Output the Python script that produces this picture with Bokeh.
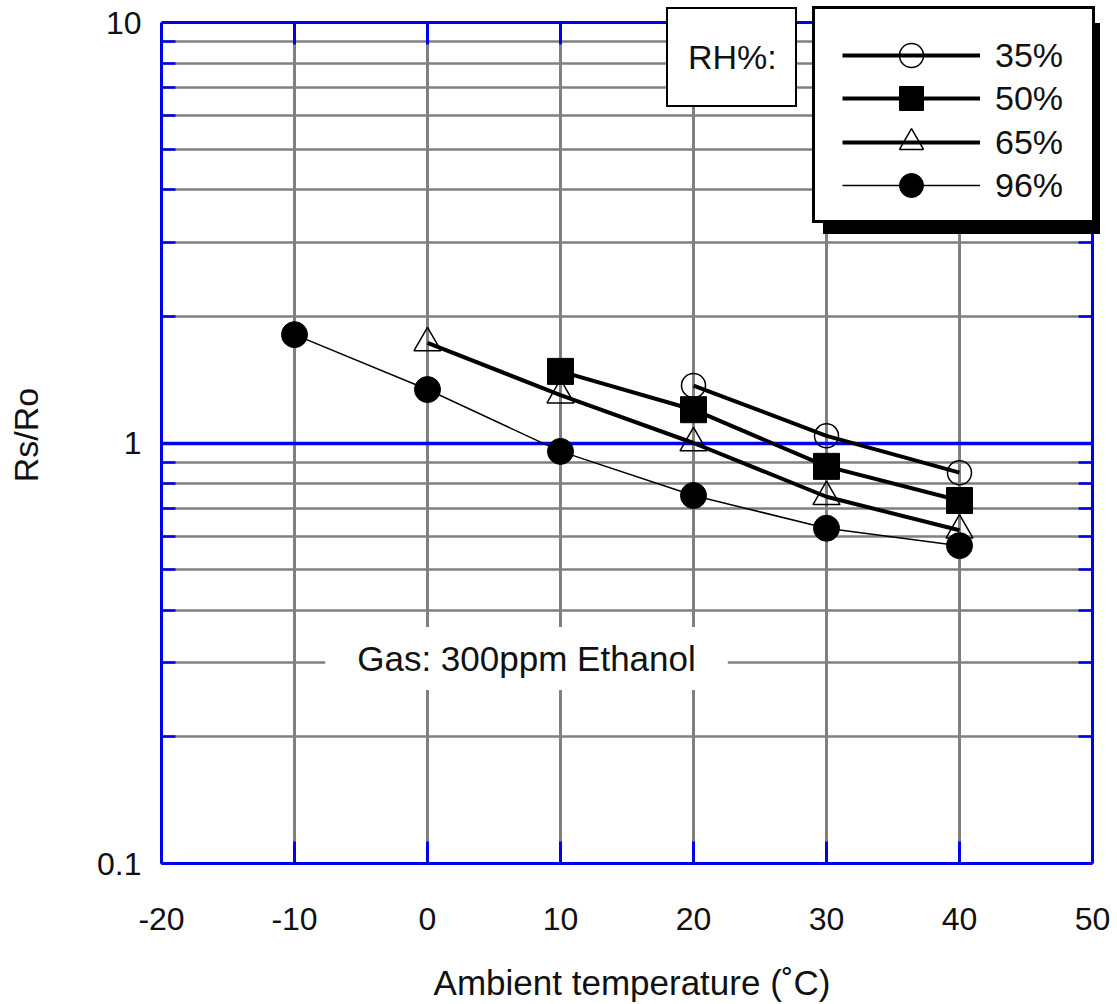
from bokeh.plotting import figure
from bokeh.models import (FixedTicker, Grid, LinearAxis, LogAxis, Legend, LegendItem,
                          Label, BoxAnnotation, CustomJSTickFormatter)
from bokeh.embed import file_html
from bokeh.resources import INLINE

# ---------------- data ----------------
temp_35 = [20, 30, 40]
rsro_35 = [1.37, 1.04, 0.85]
temp_50 = [10, 20, 30, 40]
rsro_50 = [1.48, 1.20, 0.88, 0.73]
temp_65 = [0, 10, 20, 30, 40]
rsro_65 = [1.73, 1.30, 1.00, 0.745, 0.62]
temp_96 = [-10, 0, 10, 20, 30, 40]
rsro_96 = [1.81, 1.34, 0.955, 0.75, 0.627, 0.57]
series_labels = ["35%", "50%", "65%", "96%"]

x_lo, x_hi = -20, 50
y_lo, y_hi = 0.1, 10
x_ticks = [-20, -10, 0, 10, 20, 30, 40, 50]
x_grid = [-10, 0, 10, 20, 30, 40]
y_ticks = [0.1, 1, 10]
y_minor = [0.2, 0.3, 0.4, 0.5, 0.6, 0.7, 0.8, 0.9, 2, 3, 4, 5, 6, 7, 8, 9]
y_blue = [1]

# ---------------- styling / geometry ----------------
BLUE = "#0000ee"
GRAY = "#808080"
INK = "#111111"
FONT = "Liberation Sans"
W, H = 1110, 1004
FL, FT, FR, FB = 161, 22, 1092, 863   # chart box edges (x=-20..50, y=0.1..10), canvas px
PT, PR = 6, 1102                      # plot-frame top/right, a bit larger so boxes fit
XPX = (FR - FL) / 70.0                # px per degree
DEC = (FB - FT) / 2.0                 # px per decade


def px2x(px):
    return x_lo + (px - FL) / XPX


def py2y(py):
    return 10 ** (1 - (py - FT) / DEC)


p = figure(width=W, height=H, x_range=(x_lo, px2x(PR)), y_range=(y_lo, py2y(PT)),
           y_axis_type="log", output_backend="svg", toolbar_location=None,
           min_border_left=FL, min_border_top=PT,
           min_border_right=W - PR, min_border_bottom=H - FB)
p.outline_line_color = None
p.background_fill_color = "white"
p.border_fill_color = "white"

# grids
p.xgrid.ticker = FixedTicker(ticks=x_grid)
p.xgrid.grid_line_color = GRAY
p.xgrid.grid_line_width = 3
p.xgrid.cross_bounds = (y_lo, y_hi)
p.ygrid.ticker = FixedTicker(ticks=y_minor)
p.ygrid.grid_line_color = GRAY
p.ygrid.grid_line_width = 2.5
p.ygrid.cross_bounds = (x_lo, x_hi)
blue_grid = Grid(dimension=1, ticker=FixedTicker(ticks=y_blue), cross_bounds=(x_lo, x_hi),
                 grid_line_color=BLUE, grid_line_width=3.5)
p.add_layout(blue_grid)

# axes
xa = p.xaxis[0]
xa.ticker = FixedTicker(ticks=x_ticks, minor_ticks=[])
xa.formatter = CustomJSTickFormatter(code="return tick.toFixed(0);")
xa.axis_label = "Ambient temperature (˚C)"
xa.bounds = (x_lo, x_hi)
ya = p.yaxis[0]
ya.ticker = FixedTicker(ticks=y_ticks, minor_ticks=y_minor)
ya.formatter = CustomJSTickFormatter(code="return tick >= 1 ? tick.toFixed(0) : tick.toFixed(1);")
ya.axis_label = "Rs/Ro"
ya.bounds = (y_lo, y_hi)

for ax in (xa, ya):
    ax.axis_line_color = BLUE
    ax.axis_line_width = 3
    ax.major_tick_line_color = BLUE
    ax.major_tick_out = 0
    ax.minor_tick_out = 0
    ax.major_label_text_font = FONT
    ax.major_label_text_font_size = "32px"
    ax.major_label_text_color = INK
    ax.axis_label_text_font = FONT
    ax.axis_label_text_font_style = "normal"
    ax.axis_label_text_color = INK

xa.axis_label_text_font_size = "35px"
ya.axis_label_text_font_size = "34px"
xa.major_tick_in = 22
xa.major_tick_line_width = 3
xa.major_label_standoff = 44
xa.axis_label_standoff = 30
ya.major_tick_in = 14
ya.major_tick_line_width = 2.5
ya.minor_tick_in = 14
ya.minor_tick_line_color = BLUE
ya.minor_tick_line_width = 2.5
ya.major_label_standoff = 20
ya.axis_label_standoff = 49

# blank out the thin strips of frame that lie beyond y=10 and x=50
p.add_layout(BoxAnnotation(bottom=py2y(FT - 1.6), fill_color="white", fill_alpha=1,
                           line_color=None))
p.add_layout(BoxAnnotation(left=px2x(FR + 1.6), fill_color="white", fill_alpha=1,
                           line_color=None))

blank = CustomJSTickFormatter(code="return '';")
top_axis = LinearAxis(ticker=FixedTicker(ticks=x_ticks, minor_ticks=[]), formatter=blank,
                      fixed_location=y_hi, bounds=(x_lo, x_hi),
                      axis_line_color=BLUE, axis_line_width=3,
                      major_tick_in=22, major_tick_out=0, major_tick_line_color=BLUE,
                      major_tick_line_width=3, minor_tick_line_color=None,
                      major_label_text_font_size="1px", major_label_standoff=0)
p.add_layout(top_axis, "above")
right_axis = LogAxis(ticker=FixedTicker(ticks=y_ticks, minor_ticks=y_minor), formatter=blank,
                     fixed_location=x_hi, bounds=(y_lo, y_hi),
                     axis_line_color=BLUE, axis_line_width=3,
                     major_tick_in=14, major_tick_out=0, major_tick_line_color=BLUE,
                     major_tick_line_width=2.5, minor_tick_in=14, minor_tick_out=0,
                     minor_tick_line_color=BLUE, minor_tick_line_width=2.5,
                     major_label_text_font_size="1px", major_label_standoff=0)
p.add_layout(right_axis, "right")

# ---------------- series ----------------
l35 = p.line(temp_35, rsro_35, line_color="black", line_width=4)
s35 = p.scatter(temp_35, rsro_35, marker="circle", size=24, fill_alpha=0,
                line_color="black", line_width=1.5)
l50 = p.line(temp_50, rsro_50, line_color="black", line_width=4)
s50 = p.scatter(temp_50, rsro_50, marker="square", size=26, fill_color="black",
                line_color="black")
l65 = p.line(temp_65, rsro_65, line_color="black", line_width=4)
s65 = p.scatter(temp_65, rsro_65, marker="triangle", size=27, fill_alpha=0,
                line_color="black", line_width=1.5)
l96 = p.line(temp_96, rsro_96, line_color="black", line_width=1.5)
s96 = p.scatter(temp_96, rsro_96, marker="circle", size=26, fill_color="black",
                line_color="black")
# invisible renderer used only to give the framed boxes a (blank) legend glyph
ghost = p.scatter(x=[], y=[], size=0, fill_alpha=0, line_alpha=0)

# ---------------- annotations ----------------
p.add_layout(Label(x=px2x(526), y=py2y(658), text="Gas: 300ppm Ethanol",
                   text_align="center", text_baseline="middle", text_font=FONT,
                   text_font_size="35px", text_color=INK,
                   background_fill_color="white", background_fill_alpha=1,
                   padding=dict(left=32, right=32, top=12, bottom=12)))

common = dict(margin=0, label_text_font=FONT, label_text_font_size="34px",
              label_text_color=INK)

# "RH%:" box
p.add_layout(Legend(items=[LegendItem(label="RH%:", renderers=[ghost])],
                    location=(666 - FL, FB - 107), glyph_width=2, glyph_height=60,
                    label_standoff=0, padding=18, border_line_color="black",
                    border_line_alpha=1, border_line_width=2,
                    background_fill_color="white", background_fill_alpha=1, **common))

# legend frame with drop shadow (box 277 x 211 px)
for (bx, by_bottom, fill, border) in ((823, 234, "black", None), (812, 223, "white", "black")):
    p.add_layout(Legend(items=[LegendItem(label=" ", renderers=[ghost])],
                        location=(bx - FL, FB - by_bottom), glyph_width=257,
                        glyph_height=211, label_standoff=0, label_width=20, padding=0,
                        border_line_color=border, border_line_alpha=1, border_line_width=3,
                        background_fill_color=fill, background_fill_alpha=1, **common))

renderers = [[l35, s35], [l50, s50], [l65, s65], [l96, s96]]
items = [LegendItem(label=lab, renderers=rs) for lab, rs in zip(series_labels, renderers)]
# two interleaved legends so that rows sit closer than the glyph height
for idx, top_row in ((0, 55), (1, 98)):
    sub = items[idx::2]
    leg_h = 2 * 60 + 27
    p.add_layout(Legend(items=sub, location=(842 - FL, FB - (top_row - 30 + leg_h)),
                        glyph_width=138, glyph_height=60, spacing=27, label_standoff=15,
                        padding=0, border_line_color=None, background_fill_alpha=0,
                        **common))

open("out.html", "w").write(file_html(p, INLINE))
